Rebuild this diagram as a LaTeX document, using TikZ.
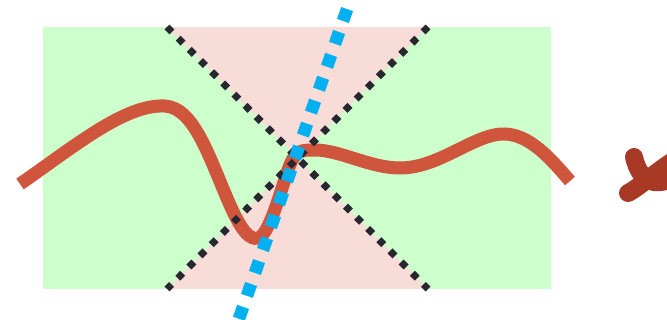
\documentclass[tikz,border=0pt]{standalone}
\definecolor{fieldgreen}{HTML}{CCFFCC}
\definecolor{conepink}{HTML}{F7DCD7}
\definecolor{wavered}{HTML}{D0553D}
\definecolor{markred}{HTML}{A83A25}
\definecolor{dotdark}{HTML}{272730}
\definecolor{skyblue}{HTML}{00B0F0}
\tikzset{
  coneedge/.style={draw=dotdark, line width=5.25pt, dash pattern=on 5.25pt off 6.6pt},
  bluecut/.style={draw=skyblue, line width=9.4pt, dash pattern=on 9.4pt off 8.8pt},
  wave/.style={draw=wavered, line width=9.75pt},
  brush/.style={draw=markred, line width=13.5pt, line cap=round},
}
\begin{document}
\begin{tikzpicture}[x=0.75pt, y=-0.75pt]
\useasboundingbox (0,0) rectangle (667,320);
% corners of the field and the cone
\coordinate (fTL) at (43,27);
\coordinate (fBR) at (551,289);
\coordinate (cTL) at (167,27);
\coordinate (cTR) at (428,27);
\coordinate (cBL) at (167,289);
\coordinate (cBR) at (428,289);
\coordinate (apex) at (297.5,158);
% background field
\fill[fieldgreen] (fTL) rectangle (fBR);
% light cone (two triangles meeting at the apex)
\fill[conepink] (cTL) -- (cTR) -- (apex) -- cycle;
\fill[conepink] (cBL) -- (cBR) -- (apex) -- cycle;
% the wavy worldline
\draw[wave] (20,184) .. controls (75,146) and (125,104) .. (165,106)
  .. controls (195,108) and (210,160) .. (230,205)
  .. controls (242,232) and (250,240) .. (258,238)
  .. controls (268,236) and (278,200) .. (288,170)
  .. controls (295,150) and (300,150) .. (315,150)
  .. controls (340,150) and (370,168) .. (400,168)
  .. controls (440,168) and (475,133) .. (505,134)
  .. controls (530,135) and (550,158) .. (570,181);
% dotted cone edges
\draw[coneedge] (cTL) -- (cBR);
\draw[coneedge] (cTR) -- (cBL);
% blue dotted slice
\coordinate (bTop) at (347.1,9.1);
\coordinate (bBot) at (235,330);
\draw[bluecut] (bTop) -- (bBot);
% brush-stroke cross mark, running off the right edge
\coordinate (xA1) at (634,157);
\coordinate (xA2) at (684,176);
\coordinate (xB1) at (628,193);
\coordinate (xB2) at (684,154);
\draw[brush] (xA1) .. controls (637,170) and (643,180) .. (654,182)
  .. controls (664,183) and (672,179) .. (xA2);
\draw[brush] (xB1) .. controls (640,187) and (657,170) .. (xB2);
\end{tikzpicture}
\end{document}
